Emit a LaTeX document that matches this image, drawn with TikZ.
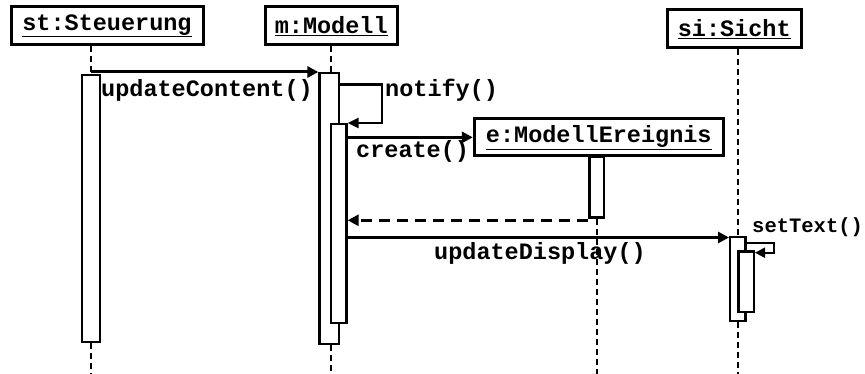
\documentclass[tikz,border=0pt]{standalone}
\usepackage{fontspec}
\setmainfont{Liberation Mono}
\usetikzlibrary{arrows.meta}
\begin{document}
\begin{tikzpicture}[x=1pt,y=-1pt,
  font=\fontsize{23.5}{28}\selectfont\bfseries,
  obj/.style={draw, line width=3pt, inner sep=0pt, fill=white},
  bar/.style={draw, line width=2.3pt, fill=white, inner sep=0pt, anchor=north},
  life/.style={line width=1.8pt, dash pattern=on 6pt off 4pt},
  msg/.style={line width=3pt, -{Triangle[length=11pt,width=11pt]}},
  selfmsg/.style={line width=2.6pt, -{Triangle[length=11pt,width=10pt]}},
  ret/.style={msg, dash pattern=on 11pt off 7pt},
  lbl/.style={anchor=base west, inner sep=0pt}]
\useasboundingbox (0,0) rectangle (865,374);
\coordinate (bot) at (0,374);
% object boxes
\node[obj, minimum width=192pt, minimum height=38.3pt] (stbox) at (107,25.85) {\underline{st:Steuerung}};
\node[obj, minimum width=132.5pt, minimum height=38.3pt] (mbox) at (331.25,25.85) {\underline{m:Modell}};
\node[obj, minimum width=133.5pt, minimum height=38pt] (sibox) at (734.25,29) {\underline{si:Sicht}};
\node[obj, minimum width=249pt, minimum height=36.7pt] (ebox) at (598.8,137.35) {\underline{e:ModellEreignis}};
% activation bars
\node[bar, minimum width=18pt, minimum height=266.5pt] (stbar) at (91,74) {};
\node[bar, minimum width=19.5pt, minimum height=270.8pt] (mouter) at (329.25,72) {};
\node[bar, minimum width=15.5pt, minimum height=198.5pt] (minner) at (338.75,123) {};
\node[bar, minimum width=14.3pt, minimum height=60.8pt] (ebar) at (596.7,155.7) {};
\node[bar, minimum width=15.3pt, minimum height=83.5pt] (siouter) at (737.8,236) {};
\node[bar, minimum width=15.3pt, minimum height=60pt] (siinner) at (746.2,250.5) {};
% lifelines
\draw[life] (stbar.north |- stbox.south) -- (stbar.north);
\draw[life] (stbar.south) -- (stbar.south |- bot);
\draw[life] (mbox.south) -- (mbox.south |- mouter.north);
\draw[life] (mbox.south |- mouter.south) -- (mbox.south |- bot);
\draw[life] (ebar.south) -- (ebar.south |- bot);
\draw[life] (siouter.north |- sibox.south) -- (siouter.north);
\draw[life] (siouter.south) -- (siouter.south |- bot);
% messages
\draw[msg] (stbar.north |- mouter.north) -- (mouter.north west);
\draw[selfmsg] ([yshift=-12.5pt]mouter.north east) -- ++(42,0) |- (minner.north east);
\draw[msg] (minner.east |- ebox.west) -- (ebox.west);
\draw[ret] ([yshift=-1.5pt]ebar.south west) -- ([yshift=-1.5pt]minner.east |- ebar.south west);
\draw[msg] ([yshift=-1.5pt]minner.east |- siouter.north) -- ([yshift=-1.5pt]siouter.north west);
\draw[line width=2pt, -{Triangle[length=10pt,width=10pt]}] ([yshift=-7.3pt]siouter.north east) -- ++(27,0) |- ([yshift=-2.2pt]siinner.north east);
% labels
\node[lbl] (l1) at (101,96.5) {updateContent()};
\node[lbl] (l2) at (385,96.5) {notify()};
\node[lbl] (l3) at (356,158) {create()};
\node[lbl] (l4) at (434,260) {updateDisplay()};
\node[lbl, font=\fontsize{20.5}{24}\selectfont\bfseries] (l5) at (752,232.5) {setText()};
\end{tikzpicture}
\end{document}
